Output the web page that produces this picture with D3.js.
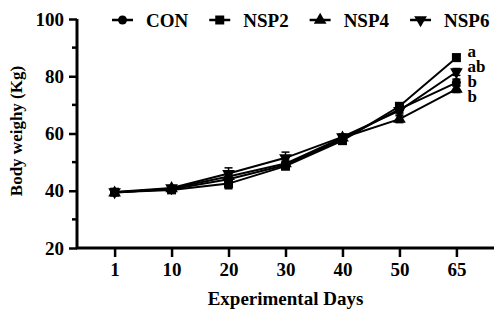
<!DOCTYPE html>
<html>
<head>
<meta charset="utf-8">
<script src="https://cdn.jsdelivr.net/npm/d3@7"></script>
<style>
  body { margin: 0; background: #fff; }
  svg { display: block; }
  svg text { font-family: "Liberation Serif", "Times New Roman", serif; font-weight: bold; fill: #000; }
</style>
</head>
<body>
<svg width="499" height="309"></svg>
<script>
const days = ["1", "10", "20", "30", "40", "50", "65"];
const seriesNames = ["CON", "NSP2", "NSP4", "NSP6"];
const con  = [39.5, 40.5, 44.0, 49.0, 58.0, 68.5, 77.8];
const nsp2 = [39.5, 40.3, 42.5, 48.6, 57.5, 69.5, 86.5];
const nsp4 = [39.3, 40.8, 45.0, 49.5, 58.5, 65.0, 75.5];
const nsp6 = [39.6, 41.0, 46.0, 51.5, 58.8, 68.0, 81.5];
// error bars (SEM)
const conErr  = [0.8, 0.8, 1.5, 1.2, 1.0, 1.2, 1.2];
const nsp2Err = [0.8, 0.8, 1.8, 1.2, 1.0, 1.2, 1.2];
const nsp4Err = [0.8, 0.8, 1.5, 1.2, 1.0, 1.2, 1.2];
const nsp6Err = [0.8, 0.8, 2.0, 2.0, 1.0, 1.2, 1.2];
const endLabels = ["a", "ab", "b", "b"];
const yTicks = [20, 40, 60, 80, 100];
const yMinor = [30, 50, 70, 90];

const series = [
  { name: "CON",  values: con,  err: conErr,  shape: d3.symbolCircle },
  { name: "NSP2", values: nsp2, err: nsp2Err, shape: d3.symbolSquare },
  { name: "NSP4", values: nsp4, err: nsp4Err, shape: d3.symbolTriangle },
  { name: "NSP6", values: nsp6, err: nsp6Err, shape: "down" }
];

const svg = d3.select("svg");
const mLeft = 77, mRight = 494, mTop = 19, mBottom = 248;

const x = d3.scalePoint().domain(days).range([mLeft, mRight]).padding(0.66);
const y = d3.scaleLinear().domain([20, 100]).range([mBottom, mTop]);

function symbolPath(shape, size) {
  if (shape === "down") {
    return d3.symbol(d3.symbolTriangle, size)();
  }
  return d3.symbol(shape, size)();
}
function symbolTransform(s, px, py) {
  return s.shape === "down" ? `translate(${px},${py}) rotate(180)` : `translate(${px},${py})`;
}
const symSize = { CON: 64, NSP2: 81, NSP4: 70, NSP6: 70 };

// lines
const line = d3.line().x((d, i) => x(days[i])).y(d => y(d));
const g = svg.append("g");
series.forEach(s => {
  g.append("path")
    .attr("d", line(s.values))
    .attr("fill", "none")
    .attr("stroke", "#000")
    .attr("stroke-width", 2);
});

// error bars
series.forEach(s => {
  s.values.forEach((v, i) => {
    const cx = x(days[i]);
    const y1 = y(v + s.err[i]), y2 = y(v - s.err[i]);
    g.append("line").attr("x1", cx).attr("x2", cx).attr("y1", y1).attr("y2", y2)
      .attr("stroke", "#000").attr("stroke-width", 1.5);
    [y1, y2].forEach(yy => {
      g.append("line").attr("x1", cx - 4).attr("x2", cx + 4).attr("y1", yy).attr("y2", yy)
        .attr("stroke", "#000").attr("stroke-width", 1.5);
    });
  });
});

// markers
series.forEach(s => {
  s.values.forEach((v, i) => {
    g.append("path")
      .attr("d", symbolPath(s.shape, symSize[s.name]))
      .attr("transform", symbolTransform(s, x(days[i]), y(v)))
      .attr("fill", "#000");
  });
});

// end labels (sorted by final value, top to bottom)
const labelY = [52, 67, 82, 97];
endLabels.forEach((t, i) => {
  svg.append("text")
    .attr("x", x("65") + 11)
    .attr("y", labelY[i])
    .attr("dy", "0.3em")
    .attr("font-size", 17)
    .text(t);
});

// y axis
const yAxis = svg.append("g").attr("transform", `translate(${mLeft},0)`)
  .call(d3.axisLeft(y).tickValues(yTicks).tickSize(8).tickPadding(5).tickFormat(d3.format("d")));
yAxis.attr("font-family", null);
yAxis.select(".domain").attr("d", `M0,${mBottom + 1}V${mTop}`).attr("stroke-width", 3);
yAxis.selectAll(".tick line").attr("stroke-width", 2.5);
yAxis.selectAll("text").attr("font-size", 19);
yAxis.selectAll(".minor").data(yMinor).enter().append("line")
  .attr("x1", -5).attr("x2", 0)
  .attr("y1", d => y(d)).attr("y2", d => y(d))
  .attr("stroke", "#000").attr("stroke-width", 2.5);

// x axis
const xAxis = svg.append("g").attr("transform", `translate(0,${mBottom})`)
  .call(d3.axisBottom(x).tickSize(9).tickPadding(6));
xAxis.attr("font-family", null);
xAxis.select(".domain").attr("d", `M${mLeft - 1},0H${mRight}`).attr("stroke-width", 3);
xAxis.selectAll(".tick line").attr("stroke-width", 2.5);
xAxis.selectAll("text").attr("font-size", 19);

// axis titles
svg.append("text")
  .attr("x", (mLeft + mRight) / 2).attr("y", 305)
  .attr("text-anchor", "middle").attr("font-size", 19)
  .text("Experimental Days");
svg.append("text")
  .attr("transform", `translate(22,131) rotate(-90)`)
  .attr("text-anchor", "middle").attr("font-size", 17)
  .text("Body weighy (Kg)");

// legend
const legend = svg.append("g");
let lx = 112;
const ly = 20;
series.forEach(s => {
  legend.append("line").attr("x1", lx).attr("x2", lx + 21).attr("y1", ly).attr("y2", ly)
    .attr("stroke", "#000").attr("stroke-width", 2.5);
  legend.append("path")
    .attr("d", symbolPath(s.shape, symSize[s.name]))
    .attr("transform", symbolTransform(s, lx + 10.5, ly))
    .attr("fill", "#000");
  const t = legend.append("text").attr("x", lx + 34).attr("y", ly).attr("dy", "0.35em")
    .attr("font-size", 19).text(s.name);
  lx = lx + 34 + t.node().getComputedTextLength() + 21;
});
</script>
</body>
</html>
